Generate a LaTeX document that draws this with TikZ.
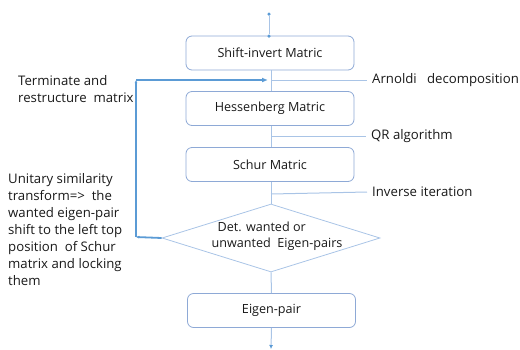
\documentclass[tikz,border=0pt]{standalone}
\usepackage{fontspec}
\setmainfont{Open Sans}
\usetikzlibrary{shapes.geometric,arrows.meta}
\definecolor{boxline}{HTML}{8EA9D6}
\definecolor{conn}{HTML}{A9C4E6}
\definecolor{fb}{HTML}{5B9BD5}
\begin{document}
\begin{tikzpicture}[x=1pt,y=-1pt,
  font=\fontsize{13.2}{17}\selectfont,
  procbox/.style={draw=boxline,line width=0.8pt,rounded corners=6pt,minimum width=168pt,minimum height=34pt,inner sep=0pt,fill=white,font=\fontsize{12.6}{17}\selectfont,text=black!90},
  conline/.style={draw=conn,line width=1pt},
  fbline/.style={draw=fb,line width=1.8pt},
  lbl/.style={anchor=west,inner sep=0pt,text=black!90},
  dotend/.style={fill=fb,circle,inner sep=0pt,minimum size=3.5pt}]
\useasboundingbox (0,0) rectangle (520,349);
\node[procbox] (shift) at (270,53) {Shift-invert Matric};
\node[procbox] (hess) at (270,108.5) {Hessenberg\ Matric};
\node[procbox] (schur) at (270,164.5) {Schur Matric};
\node[draw=conn,line width=0.8pt,diamond,aspect=3.2,minimum width=218pt,minimum height=68pt,inner sep=0pt] (det) at (271,238) {};
\node[align=left,inner sep=0pt,text=black!90,font=\fontsize{12.6}{16.5}\selectfont] (dettext) at (277,236) {\hspace*{6pt}Det. wanted or\\unwanted\ \ Eigen-pairs};
\node[procbox] (eig) at (271.5,310.5) {Eigen-pair};
% top entry
\coordinate (topdot) at (269,14);
\node[dotend] (d1) at (topdot) {};
\node[dotend] (d2) at (269,36) {};
\draw[conline] (d1) -- (d2);
% vertical connectors
\draw[conline] (271,70) -- (271,91);
\draw[conline] (271,126) -- (271,147);
\draw[conline] (271,182) -- (det.north);
\draw[conline] (det.south) -- (eig.north);
\coordinate (bot) at (271,349);
\draw[conline,-{Latex[length=4pt,width=4pt,color=fb]}] (eig.south) -- (bot);
% label lines
\coordinate (a1) at (271,80);
\coordinate (q1) at (271,136);
\coordinate (i1) at (271,194);
\node[lbl] (arn) at (372,80) {Arnoldi\ \ \ decomposition};
\node[lbl] (qr) at (371,136) {QR algorithm};
\node[lbl] (inv) at (372,192) {Inverse iteration};
\draw[conline] (a1) -- ([xshift=-5pt]arn.west);
\draw[conline] (q1) -- ([xshift=-5pt]qr.west);
\draw[conline] (i1) -- ([xshift=-5pt]inv.west);
% feedback
\coordinate (c1) at (136,237);
\coordinate (c2) at (136,80);
\coordinate (c3) at (268,80);
\draw[fbline,-{Latex[length=3pt,width=3pt]}] (det.west) -- (c1);
\draw[fbline,-{Latex[length=3pt,width=3pt]}] (c1) -- (c2);
\draw[fbline,-{Latex[length=6pt,width=5pt]}] (c2) -- (c3);
% left labels
\node[align=left,anchor=north west,inner sep=0pt,text=black!90] (term) at (18,75) {Terminate and\\restructure\ \ matrix};
\node[align=left,anchor=north west,inner sep=0pt,text=black!90] (unit) at (8,173) {Unitary similarity\\transform=>\ \ the\\wanted eigen-pair\\shift to the left top\\position\ \ of Schur\\matrix and locking\\them};
\end{tikzpicture}
\end{document}
